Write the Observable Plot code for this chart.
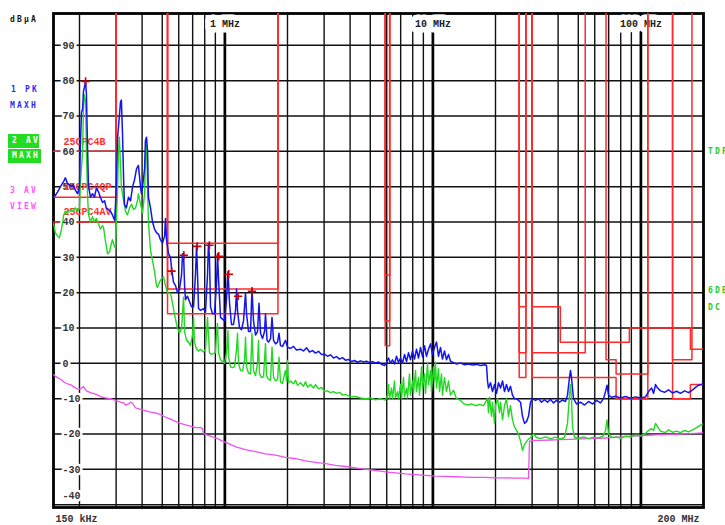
<!DOCTYPE html>
<html><head><meta charset="utf-8">
<script src="https://cdn.jsdelivr.net/npm/d3@7"></script>
<script src="https://cdn.jsdelivr.net/npm/@observablehq/plot@0.6"></script>
<style>
body{margin:0;background:#fff}
#wrap{position:relative;width:725px;height:525px;overflow:hidden}
.lg{position:absolute;font:bold 8px "DejaVu Sans Mono",monospace;letter-spacing:2.2px;line-height:10px;white-space:pre}
.box{background:#22dd22;color:#fff;line-height:14px;padding-left:4px;box-sizing:border-box}
g[aria-label="ylab"] text{letter-spacing:0.6px}
g[aria-label="declab"] text{letter-spacing:1.6px}
g[aria-label="limlab"] text{letter-spacing:1.8px}
g[aria-label="edgelab"] text{letter-spacing:2px}
</style></head><body>
<div id="wrap">
<div id="chart"></div>
<div class="lg" style="left:10px;top:15px;color:#111">dBµA</div>
<div class="lg" style="left:11px;top:85px;color:#2a2aff">1 PK</div>
<div class="lg" style="left:10px;top:101px;color:#2a2aff">MAXH</div>
<div class="lg box" style="left:8px;top:134px;width:31px;height:14px">2 AV</div>
<div class="lg box" style="left:8px;top:149px;width:33px;height:14px">MAXH</div>
<div class="lg" style="left:10px;top:186px;color:#ff55ff">3 AV</div>
<div class="lg" style="left:10px;top:202px;color:#ff55ff">VIEW</div>
<div class="lg" style="left:708px;top:147px;color:#22cc22">TDF</div>
<div class="lg" style="left:708px;top:286px;color:#22cc22">6DB</div>
<div class="lg" style="left:708px;top:303px;color:#22cc22">DC</div>
</div>
<script>
// ---- grid / tick labels ----
const gridFreq = [0.2,0.3,0.4,0.5,0.6,0.7,0.8,0.9,2,3,4,5,6,7,8,9,20,30,40,50,60,70,80,90];
const majorFreq = [1,10,100];
const decadeText = ["1 MHz","10 MHz","100 MHz"];
const yGrid = [90,80,70,60,50,40,30,20,10,0,-10,-20,-30,-40];
const yLabels = [90,80,70,60,50,40,30,20,10,0,-10,-20,-30];
const yLabelLow = [-40];
const edgeText = ["150 kHz","200 MHz"];

// ---- trace 1: PK MAXH (MHz, dBµA) ----
const pkFreq = [.150,.153,.157,.162,.168,.171,.175,.179,.183,.187,.191,.196,.200,.202,.2045,.207,.209,.211,.214,.216,.2185,.221,.226,.231,.236,.241,.247,.252,.258,.264,.269,.276,.282,.288,.295,.298,.301,.305,.311,.315,.318,.322,.326,.329,.336,.344,.352,.360,.368,.376,.384,.393,.397,.402,.411,.415,.420,.425,.429,.439,.449,.459,.469,.480,.490,.501,.513,.518,.524,.536,.548,.554,.566,.579,.592,.605,.619,.626,.633,.640,.647,.661,.676,.691,.707,.722,.731,.739,.747,.764,.789,.807,.825,.834,.843,.853,.872,.891,.911,.922,.932,.953,.974,.996,1.018,1.035,1.053,1.076,1.100,1.125,1.138,1.150,1.176,1.202,1.229,1.257,1.271,1.299,1.328,1.350,1.373,1.404,1.435,1.459,1.484,1.517,1.551,1.568,1.595,1.621,1.658,1.685,1.714,1.752,1.791,1.821,1.851,1.893,1.957,2.000,2.068,2.137,2.210,2.310,2.388,2.469,2.551,2.638,2.727,2.819,2.915,3.013,3.114,3.220,3.328,3.441,3.557,3.677,3.801,3.930,4.062,4.200,4.342,4.488,4.640,4.796,4.958,5.126,5.299,5.477,5.663,5.854,5.985,6.119,6.256,6.395,6.538,6.685,6.834,6.989,7.145,7.305,7.469,7.635,7.805,7.979,8.159,8.341,8.528,8.721,8.916,9.115,9.319,9.528,9.741,9.959,10.18,10.41,10.64,10.88,11.12,11.37,11.63,11.89,12.15,12.57,12.99,13.58,14.20,14.84,15.52,16.22,16.94,17.71,18.11,18.31,18.51,18.93,19.35,19.78,20.23,20.68,21.14,21.62,22.10,22.59,23.10,23.61,24.14,24.68,25.23,25.80,26.38,26.97,27.57,28.19,28.82,29.47,30.12,31.15,32.20,33.29,34.41,35.58,36.77,38.01,39.30,40.62,42.00,43.41,44.38,45.37,45.88,46.39,47.43,49.03,51.27,53.59,56.02,58.56,61.22,63.97,66.13,67.61,68.74,69.89,72.25,75.52,79.82,84.35,89.14,94.25,99.59,105.3,108.9,112.6,115.1,117.6,120.3,124.3,129.9,135.8,142.0,148.4,155.1,162.1,169.5,177.2,183.1,189.3,195.7,200];
const pkLevel = [47,47.5,48.5,50,51.5,52.5,51,50.5,50,50.5,49,48,50,62,71,72,77,78,80,76,62,50,47,48,47,49.5,48.5,47,45.5,46,44,43.5,43,42,40.5,45,52,64,70,74,74.5,65,52,45,44,47,46,50,52,55,56,50,48,50,55,63,64,60,47,44,40,38,37,36.5,35,34,36,41,35,31,30,27,23,22,20,21,25,31,31,22,18,19,17.5,16,16,25,33.4,25,15.5,15,15.5,14.5,25,34,30,16,14,14,22,31,24,13,12.5,12,18,26,17,11,11,15,21,15,10,9.5,12,20,14,9,9,21,12,8,9,17,8.5,7,9,14,6.5,6,7,13,6.5,5.5,6,8.5,5,4.8,6.5,4.6,4.2,4.8,3.8,4,3.5,4.4,3.2,3.6,2.9,3.4,2.5,2.6,2.0,2.4,1.5,1.9,1.2,1.6,0.9,1.1,0.5,0.8,0.3,0.7,0.4,0.6,0.2,0.5,0.1,0.4,-0.3,-0.6,0.2,1.5,0,1.0,-0.2,2,0.3,1.5,0,2.5,0.5,3,1,3.5,1.2,4,1.5,4.5,1.8,5,2,4,5.5,2.5,4.5,6,2,4.5,1.2,3.5,1,2.5,0.6,0.2,-0.2,0.1,-0.4,-0.2,-0.5,-0.3,-0.6,-0.4,-0.6,-5,-7,-5.5,-8,-6,-8.5,-5.5,-7,-5,-8,-6,-8,-6.5,-9,-10,-10,-10.5,-11,-15,-17,-16.5,-15,-11,-10,-10.5,-10,-11,-10.3,-11,-10.2,-11.2,-10.5,-11,-10.4,-10.8,-9,-4,-2,-4,-10,-11.5,-11,-11.8,-10.8,-11.5,-10.5,-11.2,-10,-8,-6.2,-9,-9.6,-9.3,-9.8,-9.4,-9.9,-9.5,-9.8,-9.5,-8,-7,-8.5,-6,-7,-7.8,-8.2,-7.5,-8.4,-7.9,-8.5,-7.8,-8.3,-7.5,-6.8,-6.2,-6,-5.5];

// ---- trace 2: AV MAXH ----
const avFreq = [.150,.153,.157,.160,.164,.168,.171,.175,.181,.187,.191,.196,.200,.202,.207,.209,.211,.214,.216,.2185,.221,.226,.231,.236,.241,.247,.252,.258,.261,.266,.273,.279,.285,.288,.295,.298,.305,.308,.311,.315,.318,.326,.333,.340,.348,.356,.364,.372,.380,.384,.393,.402,.411,.415,.420,.425,.429,.439,.449,.459,.469,.474,.485,.496,.507,.518,.530,.548,.560,.572,.586,.592,.605,.619,.633,.640,.654,.669,.683,.699,.707,.714,.731,.747,.764,.789,.807,.825,.834,.843,.862,.881,.901,.911,.922,.932,.953,.974,.996,1.018,1.035,1.041,1.064,1.088,1.112,1.138,1.150,1.163,1.189,1.216,1.243,1.257,1.271,1.299,1.328,1.350,1.373,1.404,1.435,1.451,1.467,1.500,1.534,1.568,1.585,1.621,1.658,1.685,1.714,1.752,1.791,1.821,1.851,1.893,1.935,1.957,1.978,2.000,2.022,2.068,2.137,2.186,2.235,2.310,2.388,2.442,2.497,2.581,2.668,2.727,2.819,2.915,3.013,3.114,3.220,3.328,3.441,3.557,3.677,3.801,3.930,4.062,4.246,4.488,4.743,5.013,5.299,5.600,5.919,6.052,6.119,6.187,6.325,6.395,6.538,6.612,6.760,6.834,6.989,7.067,7.225,7.305,7.469,7.551,7.720,7.805,7.979,8.070,8.251,8.341,8.528,8.624,8.818,8.916,9.115,9.217,9.423,9.528,9.741,9.849,10.07,10.18,10.30,10.41,10.64,10.76,11.00,11.12,11.37,11.63,11.89,12.15,12.57,12.99,13.58,14.04,14.68,15.35,16.03,16.76,17.51,17.91,18.31,18.51,18.72,19.14,19.35,19.78,20.00,20.45,20.91,21.14,21.62,22.10,22.59,23.10,23.61,24.14,24.68,25.23,25.80,26.38,26.97,27.57,28.50,29.47,30.46,31.49,32.91,34.79,36.77,38.87,41.08,42.93,44.38,45.37,45.88,46.39,46.91,47.96,50.14,52.99,56.02,59.22,62.56,66.13,67.61,68.74,69.89,73.06,76.36,79.82,84.35,89.14,94.25,99.59,105.3,108.9,112.6,115.1,117.6,120.3,124.3,131.3,135.8,142.0,148.4,155.1,162.1,169.5,177.2,185.1,193.5,200];
const avLevel = [39.5,37,36,35.5,38,42,43,42.5,43.5,43,44,43,44,51,60,72,76,74,60,48,42,40,41.5,40,41,39.5,38,39,38.5,35,31,31.5,34,35,33,32.5,50,60,64,56,50,46,43,42,44,45,43.5,44,46,48,45,42.5,48,58,62,50,40,32,29,26,22,21.5,23,24,24.5,22,20,19.8,17,14,11,10,8.5,10,18.7,9,6.5,6,5,8,13,6,4,3.5,4,3.2,4,13,8,3,2.5,2.8,3,8,11.3,3,1,0.5,0,3,9.3,2,-1,-1.2,-1,4,8.5,0,-2,-2.2,1,7.4,-1,-2.8,-3,8.5,-2,-3.5,0,6.5,-3,-4,-3.8,5.6,-3.5,-4.5,-4.8,4.6,-4,-5,-4.5,1.7,-5.3,-5.7,-3,-2,-5,0.8,-5.5,-5,-5.8,-4.8,-6.2,-5.5,-6.5,-5.2,-6.8,-6,-7,-6,-7.2,-6.8,-8,-7.8,-8.3,-8,-8.5,-8.2,-9,-8.8,-9.2,-9.5,-9.4,-9.8,-10,-9.8,-10.3,-10,-10.4,-9,-6,-10,-7,-10.2,-5,-9.8,-8,-10,-6,-10,-4,-9.5,-7,-9.8,-3,-9,-5,-8.5,-2,-8,-4,-9,-1,-7,-3,-8.5,0,-6,-2,-8,-1,-5,0.3,-7,-1.5,-8,-3,-9,-4,-8,-5,-9,-7.6,-10,-10.5,-11.4,-11.8,-11.5,-12,-11.6,-12,-11,-10,-14,-9.6,-15,-11,-17,-12,-10,-14,-11,-16,-12,-10,-15,-12,-16,-18,-19,-20,-22,-24.6,-23,-21.8,-21,-20,-21,-21.3,-20.8,-21.3,-20.9,-21.4,-21,-17,-9,-6,-10,-18,-21,-21.2,-20.8,-21.3,-20.9,-21.1,-20.5,-19,-16,-20,-21,-20.8,-21.2,-20.6,-20.9,-20.3,-20.5,-19.8,-19,-18.5,-19,-17,-18,-19.2,-19.6,-18.8,-19.5,-19.2,-19.6,-19,-19.4,-18.8,-18.2,-17.5,-17];

// ---- trace 3: AV VIEW ----
const viewFreq = [.150,.153,.162,.170,.175,.181,.189,.198,.202,.209,.216,.226,.239,.252,.266,.282,.298,.315,.326,.333,.344,.352,.360,.372,.393,.415,.439,.464,.490,.518,.548,.579,.612,.647,.683,.722,.764,.780,.789,.825,.872,.922,.974,1.030,1.088,1.150,1.257,1.404,1.568,1.752,1.957,2.186,2.442,2.727,3.047,3.403,3.801,4.246,4.743,5.299,5.919,6.612,7.386,8.251,9.217,10.30,11.50,12.85,14.35,16.03,17.91,20.00,22.34,24.96,27.88,28.82,29.14,30.46,32.91,36.77,41.08,45.88,51.27,57.25,63.97,71.46,79.82,89.14,99.59,111.3,124.3,138.8,155.1,173.2,200];
const viewLevel = [-3.2,-3.7,-4.5,-5.5,-5.8,-6,-6.8,-7.4,-7.2,-6.6,-7.8,-8.3,-8.7,-9.4,-9.8,-10,-10.5,-11,-11.2,-11.8,-11.5,-11,-11.3,-12.6,-13,-13.4,-13.8,-14,-14.5,-15.2,-15.8,-16.4,-17,-17.4,-17.8,-18.2,-18.2,-18.4,-19.8,-20.3,-20.8,-21.3,-22,-22.6,-23.2,-23.8,-24.4,-25,-25.6,-26,-26.6,-27,-27.6,-28,-28.4,-28.9,-29.2,-29.6,-30,-30.3,-30.7,-31,-31.3,-31.5,-31.7,-31.9,-32,-32.1,-32.2,-32.3,-32.3,-32.4,-32.4,-32.5,-32.5,-32.6,-22,-21.8,-21.8,-21.7,-21.6,-21.5,-21.4,-21.3,-21.2,-21,-20.8,-20.6,-20.5,-20.3,-20.2,-20.1,-20,-19.9,-19.7];

// ---- peak markers ----
const markerFreq = [0.214,0.554,0.635,0.736,0.843,0.935,1.044,1.158,1.35];
const markerLevel = [79.8,26.1,30.6,33.1,33.4,30.3,25.2,19.0,20.4];

// ---- limit lines (null = break, 100 = off-scale top) ----
const limitNames = ["25CPC4B","25CPC4QP","25CPC4AV"];
const limPkFreq  = [0.15,0.30,0.30,null,0.53,0.53,1.8,1.8,null,5.9,5.9,6.2,6.2,null,26,26,28,28,null,30,30,41,41,88,88,173,173,200];
const limPkLevel = [60,60,100,null,100,34,34,100,null,100,25,25,100,null,100,16,16,100,null,100,16,16,6,6,10,10,4,4];
const limQpFreq  = [0.15,0.30,0.30,null,0.53,0.53,1.8,1.8,null,5.9,5.9,6.2,6.2,null,26,26,28,28,null,30,30,54,54,null,68,68,76,76,108,108,null,142,142,176,176];
const limQpLevel = [47,47,100,null,100,21,21,100,null,100,12,12,100,null,100,3,3,100,null,100,3,3,100,null,100,1,1,-3,-3,100,null,100,1,1,100];
const limAvFreq  = [0.15,0.30,0.30,null,0.53,0.53,1.8,1.8,null,5.9,5.9,6.2,6.2,null,26,26,28,28,null,30,30,76,76,108,108,null,142,142,173,173,200];
const limAvLevel = [40,40,100,null,100,14,14,100,null,100,5,5,100,null,100,-4,-4,100,null,100,-4,-4,-10,-10,100,null,100,-10,-10,-6,-6];

const zip = (f, v) => f.map((d, i) => ({f: d, v: v[i]}));
const limits = [zip(limPkFreq, limPkLevel), zip(limQpFreq, limQpLevel), zip(limAvFreq, limAvLevel)];
const limitLabelData = limitNames.map((n, i) => ({name: n, v: limits[i][0].v}));
const FONT = "Liberation Mono, DejaVu Sans Mono, monospace";
const RED = "#ff2a2a";

const chart = Plot.plot({
  width: 725, height: 525,
  marginLeft: 53, marginRight: 22, marginTop: 13, marginBottom: 18,
  style: {background: "white", overflow: "visible"},
  x: {type: "log", domain: [0.15, 200], axis: null},
  y: {domain: [-40.8, 99], axis: null},
  marks: [
    Plot.ruleX(gridFreq, {stroke: "#111", strokeWidth: 1.4}),
    Plot.ruleX(majorFreq, {stroke: "#000", strokeWidth: 2.7}),
    Plot.ruleY(yGrid, {stroke: "#111", strokeWidth: 1.5}),
    Plot.frame({stroke: "#000", strokeWidth: 2.8}),
    Plot.text(majorFreq, {x: d => d, text: (d, i) => decadeText[i], frameAnchor: "top", dy: 10, lineAnchor: "middle",
      fill: "#222", stroke: "white", strokeWidth: 11, paintOrder: "stroke", fontFamily: FONT, fontSize: 10, fontWeight: "bold", ariaLabel: "declab"}),
    ...limits.map(L => Plot.line(L, {x: "f", y: "v", stroke: RED, strokeWidth: 1.5, clip: true})),
    Plot.text(yLabels, {y: d => d, text: d => String(d), frameAnchor: "left", dx: 9, textAnchor: "start", lineAnchor: "middle",
      fill: "#333", stroke: "white", strokeWidth: 5, paintOrder: "stroke", fontFamily: FONT, fontSize: 10, fontWeight: "bold", ariaLabel: "ylab"}),
    Plot.text(yLabelLow, {y: d => d, text: d => String(d), frameAnchor: "left", dx: 9, dy: -9, textAnchor: "start", lineAnchor: "middle",
      fill: "#333", stroke: "white", strokeWidth: 5, paintOrder: "stroke", fontFamily: FONT, fontSize: 10, fontWeight: "bold", ariaLabel: "ylab"}),
    Plot.text(limitLabelData, {y: "v", text: "name", frameAnchor: "left", dx: 10, dy: -10, textAnchor: "start", lineAnchor: "middle",
      fill: "#ff3030", fontFamily: FONT, fontSize: 10, fontWeight: "bold", ariaLabel: "limlab"}),
    Plot.line(zip(viewFreq, viewLevel), {x: "f", y: "v", stroke: "#f050f0", strokeWidth: 1.3, clip: true}),
    Plot.line(zip(avFreq, avLevel), {x: "f", y: "v", stroke: "#22d822", strokeWidth: 1.4, clip: true}),
    Plot.line(zip(pkFreq, pkLevel), {x: "f", y: "v", stroke: "#1414f0", strokeWidth: 1.5, clip: true}),
    Plot.dot(zip(markerFreq, markerLevel), {x: "f", y: "v", symbol: "plus", r: 2.8, stroke: "#d00000", strokeWidth: 1.6}),
    Plot.text([edgeText[0]], {text: d => d, frameAnchor: "bottom-left", dx: 2, dy: 11, textAnchor: "start", lineAnchor: "middle",
      fill: "#333", fontFamily: FONT, fontSize: 10, fontWeight: "bold", ariaLabel: "edgelab"}),
    Plot.text([edgeText[1]], {text: d => d, frameAnchor: "bottom-right", dx: -4, dy: 11, textAnchor: "end", lineAnchor: "middle",
      fill: "#333", fontFamily: FONT, fontSize: 10, fontWeight: "bold", ariaLabel: "edgelab"})
  ]
});
document.getElementById("chart").appendChild(chart);
</script>
</body></html>
